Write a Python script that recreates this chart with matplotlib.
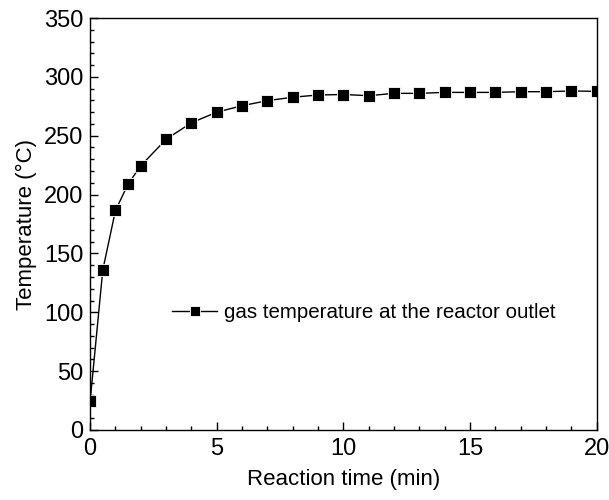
import matplotlib
matplotlib.use('Agg')
import matplotlib.pyplot as plt
from matplotlib.ticker import MultipleLocator

plt.rcParams['font.family'] = ['Liberation Sans', 'DejaVu Sans']

# reaction time (min) and outlet gas temperature (degC)
time_min = [0, 0.5, 1, 1.5, 2, 3, 4, 5, 6, 7, 8, 9, 10,
            11, 12, 13, 14, 15, 16, 17, 18, 19, 20]
temp_c = [24.5, 136, 186.5, 209, 224.5, 247, 261, 270, 275.5, 279.8, 282.7,
          284.6, 285, 284, 286, 286, 286.8, 286.8, 286.8, 287.4, 287.4,
          288, 287.7]
series_label = 'gas temperature at the reactor outlet'

fig = plt.figure(figsize=(6.09, 5.0), dpi=100)
ax = fig.add_axes([0.148, 0.14, 0.832, 0.824])

ax.plot(time_min, temp_c, color='black', lw=1.0, marker='s', ms=8.5,
        mfc='black', mec='white', mew=0.6, label=series_label)

ax.set_xlim(0, 20)
ax.set_ylim(0, 350)
ax.xaxis.set_major_locator(MultipleLocator(5))
ax.xaxis.set_minor_locator(MultipleLocator(1))
ax.yaxis.set_major_locator(MultipleLocator(50))
ax.yaxis.set_minor_locator(MultipleLocator(10))
ax.tick_params(which='both', direction='in', top=False, right=False,
               labelsize=17, width=1.0)
ax.tick_params(which='major', length=6, pad=6)
ax.tick_params(which='minor', length=3)
ax.tick_params(axis='y', pad=5)
for s in ax.spines.values():
    s.set_linewidth(1.0)

ax.set_xlabel('Reaction time (min)', fontsize=16, labelpad=6)
ax.set_ylabel('Temperature (\u00b0C)', fontsize=16, labelpad=5)

ax.legend(loc='center left', bbox_to_anchor=(0.162, 0.284), frameon=False,
          fontsize=14.8, borderpad=0, borderaxespad=0, handlelength=2.2,
          handletextpad=0.3, markerscale=0.9)

fig.savefig('out.png', dpi=100)
